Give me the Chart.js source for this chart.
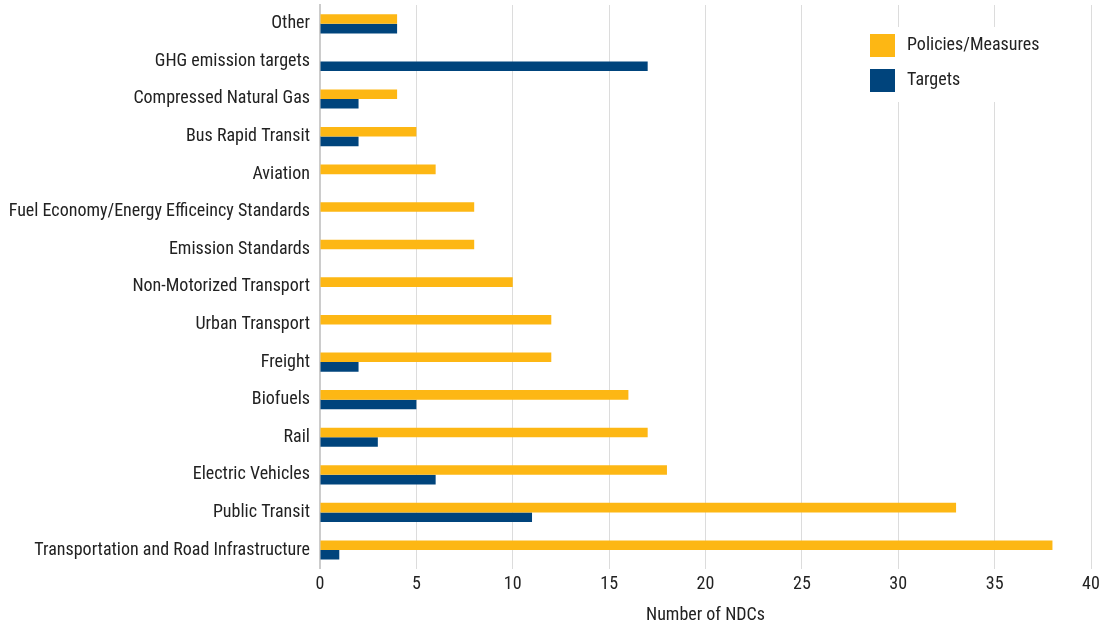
<!DOCTYPE html>
<html>
<head>
<meta charset="utf-8">
<script src="https://cdn.jsdelivr.net/npm/chart.js@4"></script>
<style>
html,body{margin:0;padding:0;background:#fff;}
#wrap{width:1111px;height:624px;}
</style>
</head>
<body>
<div id="wrap"><canvas id="c" width="1111" height="624"></canvas></div>
<script>
const categories = ["Other","GHG emission targets","Compressed Natural Gas","Bus Rapid Transit","Aviation","Fuel Economy/Energy Efficeincy Standards","Emission Standards","Non-Motorized Transport","Urban Transport","Freight","Biofuels","Rail","Electric Vehicles","Public Transit","Transportation and Road Infrastructure"];
const policiesMeasures = [4,0,4,5,6,8,8,10,12,12,16,17,18,33,38];
const targets = [4,17,2,2,0,0,0,0,0,2,5,3,6,11,1];
const xTicks = [0,5,10,15,20,25,30,35,40];
const seriesNames = ["Policies/Measures","Targets"];
const colors = ["#FDB714","#00447C"];

const FONT = "'Roboto Condensed','Liberation Sans Narrow','DejaVu Sans Condensed',sans-serif";
Chart.defaults.font.family = FONT;
Chart.defaults.color = "#222";

const floatLegend = {
  id: 'floatLegend',
  afterDraw(chart) {
    const ctx = chart.ctx;
    ctx.save();
    ctx.fillStyle = '#fff';
    ctx.fillRect(850, 27, 215, 75);
    chart.data.datasets.forEach((ds, i) => {
      const y = 34 + i * 35;
      ctx.fillStyle = ds.backgroundColor;
      ctx.fillRect(870, y, 25, 23);
      ctx.fillStyle = '#222';
      ctx.font = "18px " + FONT;
      ctx.textBaseline = 'middle';
      ctx.textAlign = 'left';
      ctx.fillText(ds.label, 907, y + 11.5);
    });
    ctx.restore();
  }
};

new Chart(document.getElementById('c'), {
  type: 'bar',
  data: {
    labels: categories,
    datasets: [
      {label: seriesNames[0], data: policiesMeasures, backgroundColor: colors[0], categoryPercentage: 0.51, barPercentage: 1},
      {label: seriesNames[1], data: targets, backgroundColor: colors[1], categoryPercentage: 0.51, barPercentage: 1}
    ]
  },
  options: {
    indexAxis: 'y',
    responsive: false,
    animation: false,
    layout: {padding: {top: 5, right: 20, bottom: -2, left: 0}},
    plugins: {legend: {display: false}, tooltip: {enabled: false}},
    scales: {
      x: {
        min: 0, max: 40,
        afterBuildTicks(scale) { scale.ticks = xTicks.map(v => ({value: v})); },
        grid: {color: '#dcdcdc', lineWidth: 1, drawTicks: false},
        border: {display: false},
        ticks: {font: {size: 18}, color: '#222', padding: 5},
        title: {display: true, text: 'Number of NDCs', font: {size: 18}, color: '#222', padding: {top: 4, bottom: 0}}
      },
      y: {
        grid: {display: false, drawTicks: false},
        border: {display: true, color: '#cccccc', width: 2},
        ticks: {font: {size: 18}, color: '#222', padding: 10},
        afterFit(scale) { scale.width = 320; scale.paddingTop = 0; scale.paddingBottom = 0; }
      }
    }
  },
  plugins: [floatLegend]
});
</script>
</body>
</html>
